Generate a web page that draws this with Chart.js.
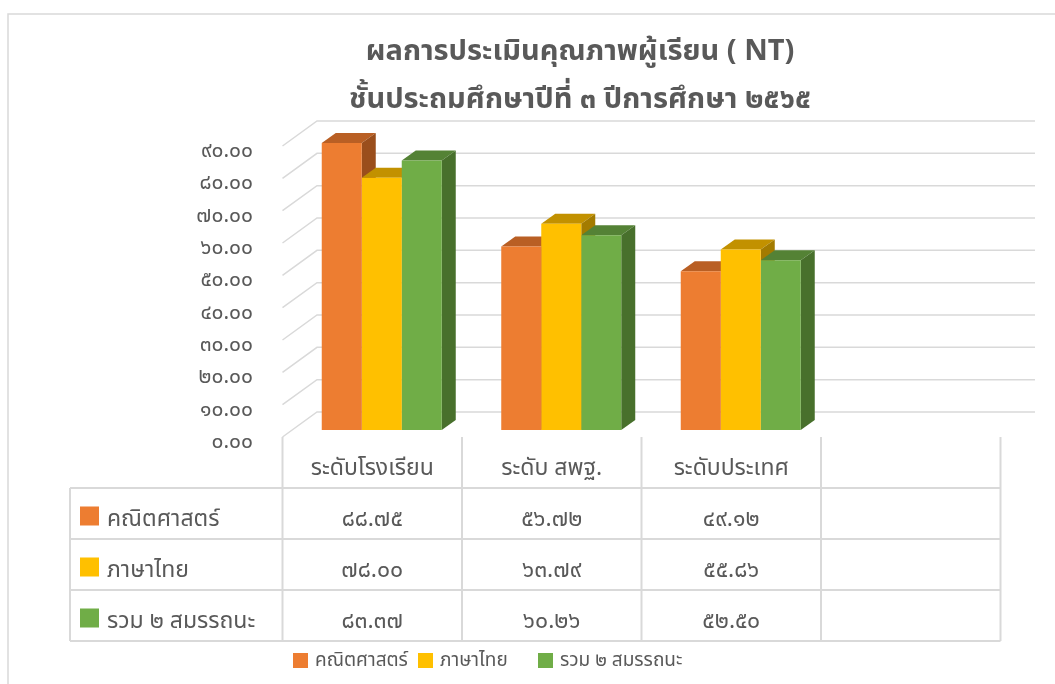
<!DOCTYPE html>
<html>
<head>
<meta charset="utf-8">
<script src="https://cdn.jsdelivr.net/npm/chart.js@4.4.1/dist/chart.umd.min.js"></script>
<style>
  html, body { margin: 0; padding: 0; background: #fff; }
  canvas { display: block; }
</style>
</head>
<body>
<canvas id="ntChart" width="1055" height="684"></canvas>
<script>
// data
const categories = ['ระดับโรงเรียน', 'ระดับ สพฐ.', 'ระดับประเทศ', ''];
const seriesNames = ['คณิตศาสตร์', 'ภาษาไทย', 'รวม ๒ สมรรถนะ'];
const mathScores = [88.75, 56.72, 49.12, null];
const thaiScores = [78.00, 63.79, 55.86, null];
const totalScores = [83.37, 60.26, 52.50, null];
const yTickLabels = ['๐.๐๐', '๑๐.๐๐', '๒๐.๐๐', '๓๐.๐๐', '๔๐.๐๐', '๕๐.๐๐', '๖๐.๐๐', '๗๐.๐๐', '๘๐.๐๐', '๙๐.๐๐'];
const titleLines = ['ผลการประเมินคุณภาพผู้เรียน ( NT)', 'ชั้นประถมศึกษาปีที่ ๓ ปีการศึกษา ๒๕๖๕'];

const frontColors = ['#ED7D31', '#FFC000', '#70AD47'];
const topColors = ['#B95F24', '#C29100', '#548235'];
const sideColors = ['#9A4E1C', '#A37B00', '#48702C'];
const gridColor = '#D9D9D9';
const textColor = '#595959';
const FONT = "'Noto Sans', 'Noto Sans Thai', sans-serif";

// 3d offsets, relative to the plane the bar fronts sit in
const DX = 14, DY = -10;          // bar depth
const BACK_X = 25, BACK_Y = -18;  // back wall
const FRONT_X = -9.5, FRONT_Y = 7; // front edge / table top
const legendX = [293, 418, 538];

const thaiDigits = '๐๑๒๓๔๕๖๗๘๙';
function toThai(s) {
    return String(s).replace(/[0-9]/g, d => thaiDigits[d]);
}

function poly(ctx, pts) {
    ctx.beginPath();
    ctx.moveTo(pts[0][0], pts[0][1]);
    for (let i = 1; i < pts.length; i++) ctx.lineTo(pts[i][0], pts[i][1]);
    ctx.closePath();
    ctx.fill();
}

const bar3d = {
    id: 'bar3d',
    beforeDatasetsDraw(chart) {
        const { ctx, chartArea, scales: { y } } = chart;
        ctx.save();
        // back wall gridlines + the slanted side lines
        ctx.strokeStyle = gridColor;
        ctx.lineWidth = 1.5;
        y.ticks.forEach(t => {
            const py = y.getPixelForValue(t.value);
            ctx.beginPath();
            ctx.moveTo(chartArea.left + FRONT_X, py + FRONT_Y);
            ctx.lineTo(chartArea.left + BACK_X, py + BACK_Y);
            ctx.lineTo(chartArea.right + BACK_X, py + BACK_Y);
            ctx.stroke();
        });
        // tops and sides, fronts are drawn by chart.js on top of these
        for (let i = 0; i < chart.data.labels.length; i++) {
            chart.data.datasets.forEach((ds, d) => {
                if (ds.data[i] == null) return;
                const el = chart.getDatasetMeta(d).data[i];
                const { x, y: top, base, width } = el.getProps(['x', 'y', 'base', 'width'], true);
                const l = x - width / 2, r = x + width / 2;
                ctx.fillStyle = topColors[d];
                poly(ctx, [[l, top], [r, top], [r + DX, top + DY], [l + DX, top + DY]]);
                ctx.fillStyle = sideColors[d];
                poly(ctx, [[r, top], [r + DX, top + DY], [r + DX, base + DY], [r, base]]);
            });
        }
        ctx.restore();
    },
    afterDraw(chart) {
        const { ctx, chartArea, scales: { y } } = chart;
        const n = chart.data.labels.length;
        const left = chartArea.left + FRONT_X;
        const colW = (chartArea.right - chartArea.left) / n;
        const headTop = y.getPixelForValue(0) + FRONT_Y;
        const rowH = 51;
        const tableLeft = 70;
        const rows = chart.data.datasets.length;
        const bottom = headTop + rowH * (rows + 1);

        ctx.save();
        // frame of the whole chart object
        ctx.strokeStyle = gridColor;
        ctx.lineWidth = 1.5;
        ctx.beginPath();
        ctx.moveTo(8, 684);
        ctx.lineTo(8, 14);
        ctx.lineTo(1055, 14);
        ctx.stroke();

        // data table grid
        ctx.lineWidth = 2;
        ctx.beginPath();
        for (let j = 0; j <= n; j++) {
            ctx.moveTo(left + j * colW, headTop);
            ctx.lineTo(left + j * colW, bottom);
        }
        ctx.moveTo(tableLeft, headTop + rowH);
        ctx.lineTo(tableLeft, bottom);
        for (let r = 1; r <= rows + 1; r++) {
            ctx.moveTo(tableLeft, headTop + r * rowH);
            ctx.lineTo(left + n * colW, headTop + r * rowH);
        }
        ctx.stroke();

        ctx.fillStyle = textColor;
        ctx.font = '23px ' + FONT;
        ctx.textAlign = 'center';
        ctx.textBaseline = 'middle';
        chart.data.labels.forEach((lab, j) => {
            ctx.fillText(lab, left + (j + 0.5) * colW, headTop + rowH / 2 + 6);
        });
        chart.data.datasets.forEach((ds, d) => {
            const cy = headTop + (d + 1.5) * rowH;
            ctx.fillStyle = frontColors[d];
            ctx.fillRect(80, cy - 10 + 3, 19, 19);
            ctx.fillStyle = textColor;
            ctx.textAlign = 'left';
            ctx.fillText(ds.label, 107, cy + 6);
            ctx.textAlign = 'center';
            ds.data.forEach((v, j) => {
                if (v == null) return;
                ctx.fillText(toThai(v.toFixed(2)), left + (j + 0.5) * colW, cy + 6);
            });
        });

        // legend along the bottom
        ctx.font = '19px ' + FONT;
        ctx.textAlign = 'left';
        const ly = 661;
        chart.data.datasets.forEach((ds, d) => {
            ctx.fillStyle = frontColors[d];
            ctx.fillRect(legendX[d], ly - 8, 15, 15);
            ctx.fillStyle = textColor;
            ctx.fillText(ds.label, legendX[d] + 22, ly);
        });
        ctx.restore();
    }
};

const ctx = document.getElementById('ntChart').getContext('2d');
new Chart(ctx, {
    type: 'bar',
    data: {
        labels: categories,
        datasets: [
            { label: seriesNames[0], data: mathScores, backgroundColor: frontColors[0] },
            { label: seriesNames[1], data: thaiScores, backgroundColor: frontColors[1] },
            { label: seriesNames[2], data: totalScores, backgroundColor: frontColors[2] }
        ]
    },
    options: {
        responsive: false,
        animation: false,
        layout: { padding: { left: 150, right: 45, top: 0, bottom: 254 } },
        datasets: { bar: { categoryPercentage: 0.6685, barPercentage: 1.0, borderWidth: 0 } },
        plugins: {
            legend: { display: false },
            tooltip: { enabled: false },
            title: {
                display: true,
                text: titleLines,
                color: textColor,
                font: { family: FONT, size: 29, weight: 'bold', lineHeight: 48 / 29 },
                padding: { top: 28, bottom: 15 }
            }
        },
        scales: {
            x: { display: false },
            y: {
                min: 0,
                max: 90,
                afterFit: scale => { scale.width = 142; },
                border: { display: false },
                grid: { display: false },
                ticks: {
                    stepSize: 10,
                    padding: 31,
                    labelOffset: 12,
                    color: textColor,
                    font: { family: FONT, size: 21 },
                    callback: (value, index) => yTickLabels[index]
                }
            }
        }
    },
    plugins: [bar3d]
});
</script>
</body>
</html>
